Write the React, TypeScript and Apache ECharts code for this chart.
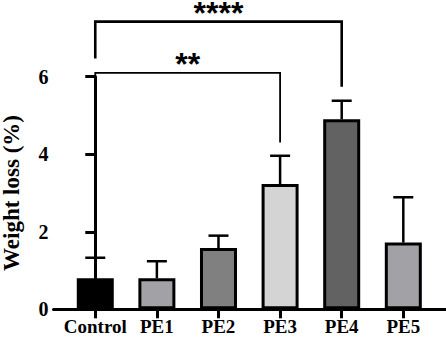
import React, { useEffect, useRef } from "react";
import * as echarts from "echarts";

const categories = ["Control", "PE1", "PE2", "PE3", "PE4", "PE5"];
const means = [0.8, 0.8, 1.58, 3.23, 4.9, 1.72];
const sds = [0.53, 0.44, 0.32, 0.73, 0.48, 1.17];
const barColors = ["#000000", "#a2a2a6", "#808080", "#d4d4d4", "#626262", "#a2a2a6"];
const yTicks = [0, 2, 4, 6];

// significance brackets: [from index, to index, left leg bottom, top, right leg bottom, stars, line width]
const brackets: [number, number, number, number, number, string, number][] = [
  [0, 3, 1.71, 6.1, 4.3, "**", 1.8],
  [0, 4, 6.47, 7.42, 5.74, "****", 2.6],
];

const FONT = "Liberation Serif";

export default function App() {
  const ref = useRef<HTMLDivElement>(null);
  useEffect(() => {
    if (!ref.current) return;
    const chart = echarts.init(ref.current, null, { renderer: "svg" });
    chart.setOption({
      animation: false,
      backgroundColor: "#ffffff",
      grid: {
        left: 53.5,
        right: 0,
        top: 76.7,
        bottom: 31.7,
        containLabel: false,
        outerBoundsMode: "none",
      },
      xAxis: {
        type: "value",
        min: -0.678,
        max: 5.693,
        splitLine: { show: false },
        axisLine: { show: true, lineStyle: { color: "#000", width: 3 } },
        axisTick: {
          show: true,
          customValues: categories.map((_, i) => i),
          length: 9,
          lineStyle: { color: "#000", width: 3 },
        },
        axisLabel: {
          customValues: categories.map((_, i) => i),
          formatter: (v: number) => categories[Math.round(v)] ?? "",
          color: "#000",
          fontFamily: FONT,
          fontWeight: "bold",
          fontSize: 19,
          margin: 8,
        },
      },
      yAxis: {
        type: "value",
        min: 0,
        max: 6,
        interval: 2,
        name: "Weight loss (%)",
        nameLocation: "middle",
        nameGap: 31,
        nameTextStyle: { color: "#000", fontFamily: FONT, fontWeight: "bold", fontSize: 23 },
        splitLine: { show: false },
        axisLine: { show: true, lineStyle: { color: "#000", width: 3 } },
        axisTick: { show: true, length: 10, lineStyle: { color: "#000", width: 3 } },
        axisLabel: {
          color: "#000",
          fontFamily: FONT,
          fontWeight: "bold",
          fontSize: 20,
          margin: 5,
          customValues: yTicks,
        },
      },
      series: [
        {
          type: "custom",
          name: "error",
          z: 1,
          clip: false,
          data: means.map((m, i) => [i, m, m + sds[i]]),
          renderItem: (params: any, api: any) => {
            const x = api.value(0);
            const lo = api.coord([x, api.value(1)]);
            const hi = api.coord([x, api.value(2)]);
            return {
              type: "group",
              children: [
                {
                  type: "line",
                  shape: { x1: lo[0], y1: lo[1], x2: hi[0], y2: hi[1] },
                  style: { stroke: "#000", lineWidth: 2.5 },
                },
                {
                  type: "line",
                  shape: { x1: hi[0] - 10, y1: hi[1], x2: hi[0] + 10, y2: hi[1] },
                  style: { stroke: "#000", lineWidth: 2.5 },
                },
              ],
            };
          },
        },
        {
          type: "bar",
          name: "mean",
          z: 2,
          barWidth: 37,
          data: means.map((m, i) => ({
            value: [i, m],
            itemStyle: { color: barColors[i], borderColor: "#000", borderWidth: 3 },
          })),
        },
        {
          type: "custom",
          name: "significance",
          z: 3,
          clip: false,
          data: brackets.map((b) => [b[0], b[1], b[2], b[3], b[4]]),
          renderItem: (params: any, api: any) => {
            const b = brackets[params.dataIndex];
            const p1 = api.coord([b[0], b[2]]);
            const p2 = api.coord([b[0], b[3]]);
            const p3 = api.coord([b[1], b[3]]);
            const p4 = api.coord([b[1], b[4]]);
            return {
              type: "group",
              children: [
                {
                  type: "polyline",
                  shape: { points: [p1, p2, p3, p4] },
                  style: { stroke: "#000", lineWidth: b[6], fill: "none" },
                },
                {
                  type: "text",
                  x: (p2[0] + p3[0]) / 2,
                  y: p2[1] - 9,
                  style: {
                    text: b[5],
                    fill: "#000",
                    fontSize: 32,
                    lineHeight: 14,
                    fontWeight: "bold",
                    fontFamily: "Liberation Sans",
                    align: "center",
                    verticalAlign: "middle",
                  },
                },
              ],
            };
          },
        },
      ],
    });
    return () => chart.dispose();
  }, []);
  return <div ref={ref} style={{ width: 446, height: 341, position: "absolute", left: 0, top: 0 }} />;
}
